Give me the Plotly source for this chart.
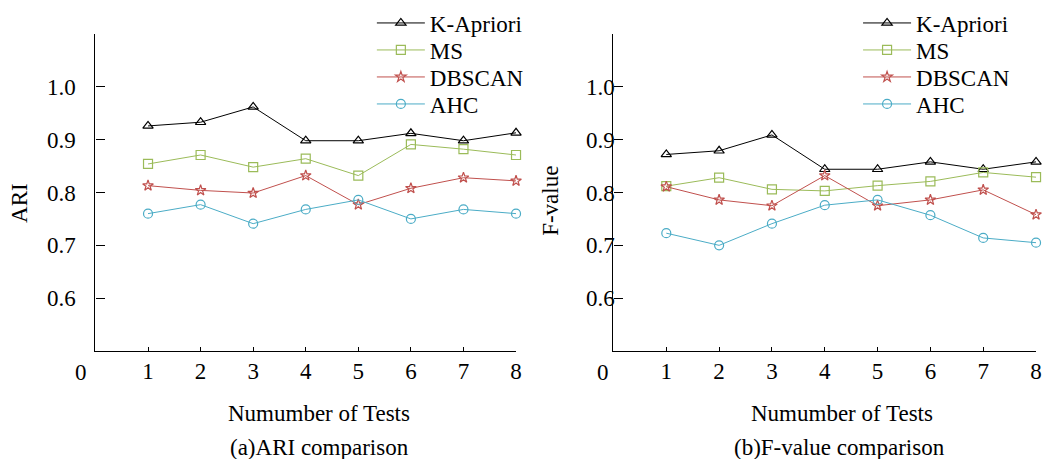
import plotly.graph_objects as go

# ---------------- data ----------------
tests = [1, 2, 3, 4, 5, 6, 7, 8]
methods = ["K-Apriori", "MS", "DBSCAN", "AHC"]

ari_kapriori = [0.926, 0.933, 0.962, 0.898, 0.898, 0.912, 0.898, 0.913]
ari_ms = [0.854, 0.871, 0.848, 0.864, 0.832, 0.891, 0.882, 0.871]
ari_dbscan = [0.813, 0.804, 0.799, 0.832, 0.777, 0.808, 0.828, 0.822]
ari_ahc = [0.760, 0.777, 0.741, 0.768, 0.786, 0.750, 0.768, 0.760]

f_kapriori = [0.872, 0.879, 0.909, 0.844, 0.844, 0.858, 0.844, 0.858]
f_ms = [0.812, 0.828, 0.806, 0.803, 0.813, 0.821, 0.838, 0.829]
f_dbscan = [0.811, 0.786, 0.775, 0.832, 0.775, 0.786, 0.805, 0.758]
f_ahc = [0.723, 0.700, 0.741, 0.776, 0.786, 0.757, 0.714, 0.705]

y_tick_vals = [0.6, 0.7, 0.8, 0.9, 1.0]
y_tick_text = ["0.6", "0.7", "0.8", "0.9", "1.0"]
x_tick_text = [str(t) for t in tests]

ari_series = [ari_kapriori, ari_ms, ari_dbscan, ari_ahc]
f_series = [f_kapriori, f_ms, f_dbscan, f_ahc]

# ---------------- style ----------------
colors = ["#000000", "#9BBB59", "#C0504D", "#4BACC6"]
symbols = ["triangle-up-open", "square-open", "star-open", "circle-open"]
sizes = [9, 9, 8, 9]
FONT = "Liberation Serif"
FS = 23
W, H = 1049, 459

def px_x(p):
    return p / W

def px_y(p):
    return 1 - p / H

legend_rows_px = [23, 50, 77, 104]
legend_left_px = [374, 863]

fig = go.Figure()
layout_legends = {}
for panel, (series, xa, ya) in enumerate([(ari_series, "x", "y"), (f_series, "x2", "y2")]):
    for i, name in enumerate(methods):
        k = panel * 4 + i + 1
        lname = "legend" if k == 1 else f"legend{k}"
        fig.add_trace(go.Scatter(
            x=tests, y=series[i], name=name, mode="lines+markers",
            line=dict(color=colors[i], width=1),
            marker=dict(symbol=symbols[i], size=sizes[i], color=colors[i], line=dict(width=1.2)),
            xaxis=xa, yaxis=ya, legend=lname, cliponaxis=False,
        ))
        layout_legends[lname] = dict(
            x=px_x(legend_left_px[panel]), y=px_y(legend_rows_px[i]),
            xanchor="left", yanchor="middle",
            bgcolor="rgba(0,0,0,0)", itemwidth=48,
            font=dict(family=FONT, size=FS, color="#000000"),
        )

plot_top, plot_bot = 34, 351
xdom1 = [px_x(96), px_x(519)]
xdom2 = [px_x(617), px_x(1042)]
ydom = [px_y(plot_bot), px_y(plot_top)]

common_x = dict(
    range=[0, 8], tickmode="array", tickvals=tests, ticktext=x_tick_text,
    showline=True, linecolor="#000000", linewidth=1.3, mirror=False,
    ticks="inside", ticklen=4, tickcolor="#000000", tickwidth=1,
    showgrid=False, zeroline=False, ticklabelstandoff=-1,
    tickfont=dict(family=FONT, size=FS, color="#000000"),
)
common_y = dict(
    range=[0.5, 1.1], tickmode="array", tickvals=y_tick_vals, ticktext=y_tick_text,
    showline=True, linecolor="#000000", linewidth=1.3,
    ticks="inside", ticklen=9, tickcolor="#000000", tickwidth=1,
    showgrid=False, zeroline=False,
    tickfont=dict(family=FONT, size=FS, color="#000000"),
)

fig.update_layout(
    width=W, height=H,
    margin=dict(l=0, r=0, t=0, b=0),
    paper_bgcolor="white", plot_bgcolor="white",
    font=dict(family=FONT, size=FS, color="#000000"),
    xaxis=dict(domain=xdom1, anchor="y", **common_x),
    yaxis=dict(domain=ydom, anchor="x", ticklabelstandoff=14, **common_y),
    xaxis2=dict(domain=xdom2, anchor="y2", **common_x),
    yaxis2=dict(domain=ydom, anchor="x2", ticklabelstandoff=-7, **common_y),
    showlegend=True,
    **layout_legends,
)

ann = []
# origin "0" labels
ann.append(dict(text="0", x=0, xref="x", y=0.5, yref="y", xshift=-14, yshift=-21,
                showarrow=False, xanchor="center", yanchor="middle",
                font=dict(family=FONT, size=FS)))
ann.append(dict(text="0", x=0, xref="x2", y=0.5, yref="y2", xshift=-10, yshift=-21,
                showarrow=False, xanchor="center", yanchor="middle",
                font=dict(family=FONT, size=FS)))
# axis titles and captions
ann.append(dict(text="Numumber of Tests", x=px_x(321), y=px_y(413), xref="paper", yref="paper",
                showarrow=False, xanchor="center", yanchor="middle", font=dict(family=FONT, size=FS)))
ann.append(dict(text="Numumber of Tests", x=px_x(847), y=px_y(413), xref="paper", yref="paper",
                showarrow=False, xanchor="center", yanchor="middle", font=dict(family=FONT, size=FS)))
ann.append(dict(text="(a)ARI comparison", x=px_x(321), y=px_y(447), xref="paper", yref="paper",
                showarrow=False, xanchor="center", yanchor="middle", font=dict(family=FONT, size=FS)))
ann.append(dict(text="(b)F-value comparison", x=px_x(844), y=px_y(447), xref="paper", yref="paper",
                showarrow=False, xanchor="center", yanchor="middle", font=dict(family=FONT, size=FS)))
ann.append(dict(text="ARI", x=px_x(19), y=px_y(203), xref="paper", yref="paper", textangle=-90,
                showarrow=False, xanchor="center", yanchor="middle", font=dict(family=FONT, size=FS)))
ann.append(dict(text="F-value", x=px_x(553), y=px_y(201), xref="paper", yref="paper", textangle=-90,
                showarrow=False, xanchor="center", yanchor="middle", font=dict(family=FONT, size=FS)))
fig.update_layout(annotations=ann)

fig.write_html("out.html")
